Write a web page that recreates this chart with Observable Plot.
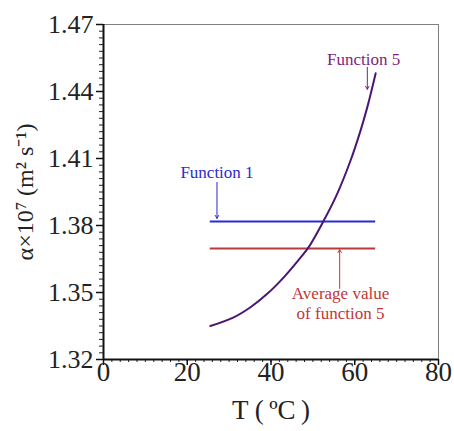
<!DOCTYPE html>
<html><head><meta charset="utf-8">
<script src="https://cdn.jsdelivr.net/npm/d3@7"></script>
<script src="https://cdn.jsdelivr.net/npm/@observablehq/plot@0.6"></script>
<style>body{margin:0;background:#fff}</style>
</head><body><div id="chart"></div>
<script>
// Function 5 curve
const temps  = [25.5, 31.1, 35.1, 39.1, 43.1, 47.0, 49.0, 52.6, 55.8, 59.0, 61.4, 63.0, 65.0];
const alpha5 = [1.3350, 1.3389, 1.3434, 1.3494, 1.3569, 1.3655, 1.3703, 1.3822, 1.3942, 1.4091, 1.4226, 1.4330, 1.4482];
// Horizontal lines
const function1Value = 1.3818;
const averageValue = 1.3697;
const lineRange = [25.5, 65];
// Ticks
const xMajor = [0, 20, 40, 60, 80];
const xMinor = d3.range(0, 80.001, 2);
const yMajor = [1.32, 1.35, 1.38, 1.41, 1.44, 1.47];
const yMinor = d3.range(0, 51).map(i => 1.32 + i * 0.003);
// Annotations
const labels = [
  {x: 27.1, y: 1.4042, text: "Function 1", color: "#2b2bd0"},
  {x: 62.1, y: 1.4548, text: "Function 5", color: "#7d1f80"},
  {x: 56.6, y: 1.3455, text: "Average value\nof function 5", color: "#c03838"}
];
const arrows = [
  {x1: 27.1, y1: 1.3993, x2: 27.1, y2: 1.3832, color: "#2b2bd0"},
  {x1: 63.0, y1: 1.4508, x2: 63.0, y2: 1.4410, color: "#7d1f80"},
  {x1: 56.4, y1: 1.3518, x2: 56.4, y2: 1.3692, color: "#c03838"}
];

const curve = temps.map((t, i) => ({t, v: alpha5[i]}));
const font = "'Liberation Serif', 'Times New Roman', serif";

const chart = Plot.plot({
  width: 454,
  height: 431,
  marginLeft: 103,
  marginRight: 16,
  marginTop: 24,
  marginBottom: 72,
  style: {fontFamily: font, background: "#fff"},
  x: {domain: [0, 80]},
  y: {domain: [1.32, 1.47]},
  marks: [
    Plot.frame({stroke: "#808080", strokeWidth: 1}),
    Plot.axisX({ticks: xMinor, tickSize: 3, tickFormat: () => "", label: null, stroke: "#222"}),
    Plot.axisX({ticks: xMajor, tickSize: 6, tickPadding: -4, fontSize: 27, fontFamily: font, label: null, fill: "#222", stroke: "#111", strokeWidth: 1.5}),
    Plot.axisY({ticks: yMinor, tickSize: 4, tickFormat: () => "", label: null, stroke: "#222"}),
    Plot.axisY({ticks: yMajor, tickSize: 7, tickPadding: 3, fontSize: 26, fontFamily: font, tickFormat: d3.format(".2f"), label: null, fill: "#222", stroke: "#111", strokeWidth: 1.5}),
    Plot.ruleY([1.32], {stroke: "#111", strokeWidth: 2}),
    Plot.ruleX([0], {stroke: "#111", strokeWidth: 2}),
    Plot.ruleY([function1Value], {x1: lineRange[0], x2: lineRange[1], stroke: "#2b2bd6", strokeWidth: 2}),
    Plot.ruleY([averageValue], {x1: lineRange[0], x2: lineRange[1], stroke: "#b83a3a", strokeWidth: 2}),
    Plot.line(curve, {x: "t", y: "v", curve: "catmull-rom", stroke: "#4b1673", strokeWidth: 2}),
    Plot.arrow(arrows, {x1: "x1", y1: "y1", x2: "x2", y2: "y2", stroke: "color", headLength: 5, strokeWidth: 1}),
    Plot.text(labels, {x: "x", y: "y", text: "text", fill: "color", fontSize: 17, fontFamily: font, lineHeight: 1.15}),
    Plot.text(["α×10⁷ (m² s⁻¹)"], {frameAnchor: "left", textAnchor: "middle", dx: -78, rotate: -90, fontSize: 24, fontFamily: font, fill: "#222"}),
    Plot.text(["T (\u2009ºC\u2009)"], {frameAnchor: "bottom", dy: 59, fontSize: 27, fontFamily: font, fill: "#222"})
  ]
});
document.getElementById("chart").appendChild(chart);
</script>
</body></html>
